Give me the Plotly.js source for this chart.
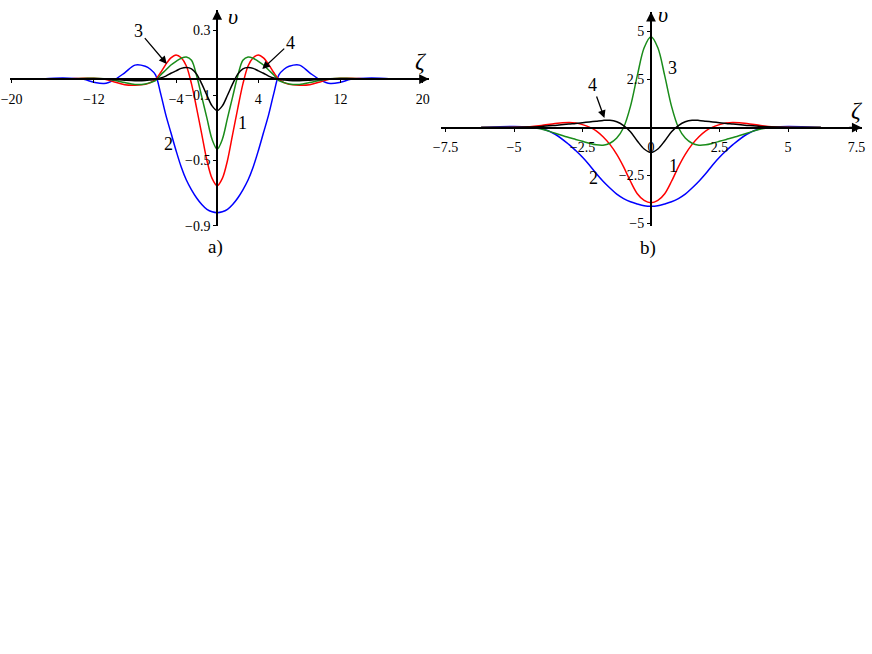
<!DOCTYPE html>
<html><head><meta charset="utf-8">
<script src="https://cdn.plot.ly/plotly-3.0.1.min.js"></script>
<style>html,body{margin:0;padding:0;background:#fff}#plot{width:872px;height:654px}</style>
</head><body><div id="plot"></div>
<script>
// ---- Panel a) data ----
const xA = [-17,-15,-13,-12,-11,-10,-9,-8,-7,-6.5,-6,-5.5,-5,-4.5,-4,-3.5,-3,-2.5,-2,-1.5,-1,-0.5,0,0.5,1,1.5,2,2.5,3,3.5,4,4.5,5,5.5,6,6.5,7,8,9,10,11,12,13,15,17];
const a1 = [0,0,0.004,0.005,0,-0.018,-0.035,-0.038,-0.033,-0.022,-0.002,0.04,0.09,0.13,0.148,0.13,0.08,-0.03,-0.18,-0.34,-0.50,-0.61,-0.655,-0.61,-0.50,-0.34,-0.18,-0.03,0.08,0.13,0.148,0.13,0.09,0.04,-0.002,-0.022,-0.033,-0.038,-0.035,-0.018,0,0.005,0.004,0,0];
const a2 = [0,0.006,-0.002,-0.02,-0.028,-0.005,0.038,0.085,0.078,0.06,0.025,-0.09,-0.22,-0.33,-0.44,-0.54,-0.62,-0.68,-0.73,-0.77,-0.80,-0.815,-0.82,-0.815,-0.80,-0.77,-0.73,-0.68,-0.62,-0.54,-0.44,-0.33,-0.22,-0.09,0.025,0.06,0.078,0.085,0.038,-0.005,-0.028,-0.02,-0.002,0.006,0];
const a3 = [0,0,0.003,0.005,0.002,-0.008,-0.022,-0.033,-0.03,-0.022,-0.01,0.025,0.055,0.086,0.108,0.127,0.135,0.115,0.02,-0.11,-0.24,-0.37,-0.43,-0.37,-0.24,-0.11,0.02,0.115,0.135,0.127,0.108,0.086,0.055,0.025,-0.01,-0.022,-0.03,-0.033,-0.022,-0.008,0.002,0.005,0.003,0,0];
const a4 = [0,0,0,0,0,-0.003,-0.007,-0.01,-0.009,-0.006,-0.002,0.006,0.018,0.035,0.05,0.065,0.07,0.062,0.03,-0.03,-0.10,-0.165,-0.194,-0.165,-0.10,-0.03,0.03,0.062,0.07,0.065,0.05,0.035,0.018,0.006,-0.002,-0.006,-0.009,-0.01,-0.007,-0.003,0,0,0,0,0];
const xTicksA = [-20,-12,-4,4,12,20];
const xTickTextA = ["\u221220","\u221212","\u22124","4","12","20"];
const yTicksA = [0.3,-0.1,-0.5,-0.9];
const yTickTextA = ["0.3","\u22120.1","\u22120.5","\u22120.9"];

// ---- Panel b) data ----
const xB = [-6.2,-5.5,-5,-4.5,-4,-3.5,-3,-2.75,-2.5,-2.25,-2,-1.75,-1.5,-1.25,-1,-0.75,-0.5,-0.25,0,0.25,0.5,0.75,1,1.25,1.5,1.75,2,2.25,2.5,2.75,3,3.5,4,4.5,5,5.5,6.2];
const b1 = [0,0,0.01,0.03,0.1,0.21,0.26,0.24,0.15,0.02,-0.17,-0.48,-0.88,-1.4,-2.05,-2.8,-3.45,-3.8,-3.92,-3.8,-3.45,-2.8,-2.05,-1.4,-0.88,-0.48,-0.17,0.02,0.15,0.24,0.26,0.21,0.1,0.03,0.01,0,0];
const b2 = [0,0.04,0.05,0.03,-0.05,-0.35,-0.88,-1.2,-1.55,-1.95,-2.4,-2.8,-3.15,-3.47,-3.7,-3.87,-3.98,-4.07,-4.1,-4.07,-3.98,-3.87,-3.7,-3.47,-3.15,-2.8,-2.4,-1.95,-1.55,-1.2,-0.88,-0.35,-0.05,0.03,0.05,0.04,0];
const b3 = [0,0,0,0,-0.08,-0.3,-0.52,-0.62,-0.72,-0.82,-0.9,-0.92,-0.82,-0.55,0.0,1.1,2.7,4.15,4.72,4.15,2.7,1.1,0.0,-0.55,-0.82,-0.92,-0.9,-0.82,-0.72,-0.62,-0.52,-0.3,-0.08,0,0,0,0];
const b4 = [0,0,0.005,0.02,0.05,0.11,0.18,0.21,0.25,0.29,0.33,0.37,0.38,0.3,0.1,-0.22,-0.7,-1.12,-1.3,-1.12,-0.7,-0.22,0.1,0.3,0.38,0.37,0.33,0.29,0.25,0.21,0.18,0.11,0.05,0.02,0.005,0,0];
const xTicksB = [-7.5,-5,-2.5,0,2.5,5,7.5];
const xTickTextB = ["\u22127.5","\u22125","\u22122.5","0","2.5","5","7.5"];
const yTicksB = [5,2.5,-2.5,-5];
const yTickTextB = ["5","2.5","\u22122.5","\u22125"];

// ---- layout geometry (pixels) ----
const W = 872, H = 654;
const A = {x0:217.2, sx:10.28, y0:79, sy:163, xr:[-20.2,20.6], yr:[-0.9,0.423]};
const B = {x0:651, sx:27.4, y0:127.5, sy:19.2, xr:[-7.65,7.69], yr:[-5.15,6.03]};
const COL = {blue:"#0000ff", red:"#ff0000", green:"#1a8c1a", black:"#000000"};
const FONT = "Liberation Serif";

function dom(P){
  return {
    x:[(P.x0+P.xr[0]*P.sx)/W, (P.x0+P.xr[1]*P.sx)/W],
    y:[1-(P.y0-P.yr[0]*P.sy)/H, 1-(P.y0-P.yr[1]*P.sy)/H],
    px:P.x0/W, py:1-P.y0/H
  };
}
const dA = dom(A), dB = dom(B);

function tr(x,y,c,xa,ya){
  return {x:x,y:y,type:'scatter',mode:'lines',xaxis:xa,yaxis:ya,
    line:{color:c,width:1.5,shape:'spline',smoothing:0.9},hoverinfo:'skip',showlegend:false};
}
const data = [
  tr(xA,a2,COL.blue,'x','y'), tr(xA,a1,COL.red,'x','y'), tr(xA,a3,COL.green,'x','y'), tr(xA,a4,COL.black,'x','y'),
  tr(xB,b2,COL.blue,'x2','y2'), tr(xB,b1,COL.red,'x2','y2'), tr(xB,b3,COL.green,'x2','y2'), tr(xB,b4,COL.black,'x2','y2')
];

function xax(d,P,vals,txt){
  return {domain:d.x, range:P.xr, anchor:'free', position:d.py,
    showline:true, linecolor:'#000', linewidth:2, showgrid:false, zeroline:false,
    ticks:'outside', ticklen:3, tickwidth:1, tickcolor:'#000', tickvals:vals, ticktext:txt,
    ticklabelstandoff:4, ticklabeloverflow:'allow', tickfont:{family:FONT,size:14,color:'#000'}, fixedrange:true};
}
function yax(d,P,vals,txt){
  return {domain:d.y, range:P.yr, anchor:'free', position:d.px,
    showline:true, linecolor:'#000', linewidth:2, showgrid:false, zeroline:false,
    ticks:'outside', ticklen:3, tickwidth:1, tickcolor:'#000', tickvals:vals, ticktext:txt,
    ticklabelstandoff:0, ticklabeloverflow:'allow', tickfont:{family:FONT,size:14,color:'#000'}, fixedrange:true};
}

function lab(px,py,t,size){
  return {xref:'paper',yref:'paper',x:px/W,y:1-py/H,text:t,showarrow:false,
    xanchor:'center',yanchor:'middle',font:{family:FONT,size:size||18,color:'#000'}};
}
function arrowLab(xref,yref,x,y,t,ax,ay){
  return {xref:xref,yref:yref,x:x,y:y,text:t,showarrow:true,ax:ax,ay:ay,
    arrowhead:2,arrowsize:1.2,arrowwidth:1.3,arrowcolor:'#000',standoff:0,
    font:{family:FONT,size:18,color:'#000'}};
}
function axisArrow(xref,yref,x,y,ax,ay){
  return {xref:xref,yref:yref,x:x,y:y,text:'',showarrow:true,ax:ax,ay:ay,
    arrowhead:2,arrowsize:1.3,arrowwidth:1.5,arrowcolor:'#000',standoff:0};
}

const annotations = [
  axisArrow('x','y',A.xr[1],0,-14,0),
  axisArrow('x','y',0,A.yr[1],0,14),
  axisArrow('x2','y2',B.xr[1],0,-14,0),
  axisArrow('x2','y2',0,B.yr[1],0,14),
  arrowLab('x','y',-4.9,0.092,'3',-28,-33),
  arrowLab('x','y',4.38,0.061,'4',28,-26),
  arrowLab('x2','y2',-1.7,0.49,'4',-12,-33),
  lab(242,123,'1'), lab(168,144,'2'),
  lab(672,68,'3'), lab(673,166,'1'), lab(593,178,'2'),
  lab(233,16,'<i>\u03c5</i>',22), lab(421,61,'<i>\u03b6</i>',24),
  lab(663,15,'<i>\u03c5</i>',22), lab(857,110,'<i>\u03b6</i>',24),
  lab(215,247,'a)',19), lab(648,248,'b)',19)
];

const layout = {
  width:W, height:H, margin:{l:0,r:0,t:0,b:0},
  paper_bgcolor:'#fff', plot_bgcolor:'rgba(0,0,0,0)', showlegend:false,
  xaxis: xax(dA,A,xTicksA,xTickTextA),
  yaxis: yax(dA,A,yTicksA,yTickTextA),
  xaxis2: xax(dB,B,xTicksB,xTickTextB),
  yaxis2: yax(dB,B,yTicksB,yTickTextB),
  annotations: annotations
};
Plotly.newPlot('plot', data, layout, {staticPlot:true, displayModeBar:false});
</script></body></html>
